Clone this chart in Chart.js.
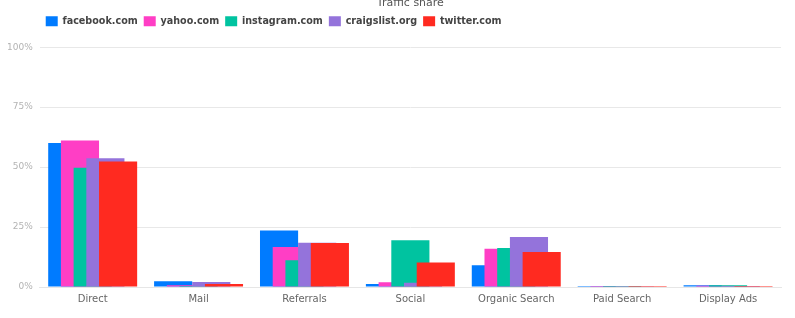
<!DOCTYPE html>
<html>
<head>
<meta charset="utf-8">
<script src="https://cdn.jsdelivr.net/npm/chart.js@4"></script>
<style>
  html, body { margin: 0; padding: 0; background: #fff; overflow: hidden; }
  #wrap { position: absolute; left: 0; top: -5px; width: 795px; height: 325px; }
</style>
</head>
<body>
<div id="wrap"><canvas id="traffic" width="795" height="325"></canvas></div>
<script>
const categories = ['Direct', 'Mail', 'Referrals', 'Social', 'Organic Search', 'Paid Search', 'Display Ads'];
const sites = ['facebook.com', 'yahoo.com', 'instagram.com', 'craigslist.org', 'twitter.com'];
const facebook = [60, 2.4, 23.6, 1.3, 9.1, 0.4, 0.7];
const yahoo = [61.1, 0.7, 16.7, 2.0, 15.9, 0.4, 0.5];
const instagram = [49.7, 0.4, 11.2, 19.5, 16.3, 0.4, 0.7];
const craigslist = [53.7, 2.1, 18.5, 1.8, 20.8, 0.3, 0.4];
const twitter = [52.3, 1.3, 18.4, 10.2, 14.6, 0.4, 0.4];
const yTicks = [0, 25, 50, 75, 100];

const colors = ['#007bff', '#ff3ec5', '#00c3a0', '#9473db', '#ff2a20'];
const series = [facebook, yahoo, instagram, craigslist, twitter];

// draw datasets left to right so the right-most bar sits on top
const drawInOrder = {
    id: 'drawInOrder',
    beforeDatasetsDraw(chart) {
        chart.getSortedVisibleDatasetMetas().forEach(meta => meta.controller.draw());
        return false;
    },
};

// a bit of room under the legend
const legendGap = {
    id: 'legendGap',
    beforeInit(chart) {
        const fit = chart.legend.fit;
        chart.legend.fit = function() {
            fit.bind(chart.legend)();
            this.height += 11;
        };
    },
};

(function() {
    const data = {
        labels: categories,
        datasets: sites.map((s, i) => ({
            label: s,
            data: series[i],
            backgroundColor: colors[i],
            borderColor: colors[i],
            borderWidth: 0,
            categoryPercentage: 0.6,
            barPercentage: 3,
        })),
    };

    new Chart(
        document.getElementById('traffic'),
        {
            type: 'bar',
            data: data,
            plugins: [drawInOrder, legendGap],
            options: {
                responsive: false,
                animation: false,
                devicePixelRatio: 1,
                layout: { padding: { left: 0, right: 14, top: 0, bottom: 9 } },
                plugins: {
                    title: {
                        display: true,
                        fullSize: false,
                        text: 'Traffic share',
                        color: '#555',
                        font: { family: 'DejaVu Sans', size: 11, weight: 'normal' },
                        padding: { top: 2, bottom: 0 },
                    },
                    legend: {
                        align: 'start',
                        fullSize: false,
                        labels: {
                            boxWidth: 12,
                            boxHeight: 10,
                            padding: 6,
                            color: '#444',
                            font: { family: 'DejaVu Sans', size: 9.6, weight: 'bold' },
                        },
                    },
                    tooltip: { enabled: false },
                },
                scales: {
                    x: {
                        grid: { display: false, drawTicks: false },
                        border: { color: '#e6e6e6' },
                        ticks: { color: '#666', padding: 6, font: { family: 'DejaVu Sans', size: 10 } },
                    },
                    y: {
                        min: 0,
                        max: 100,
                        afterBuildTicks: axis => { axis.ticks = yTicks.map(v => ({ value: v })); },
                        border: { display: false },
                        grid: { color: '#e8e8e8', drawTicks: false },
                        ticks: {
                            color: '#b3b3b3',
                            padding: 7,
                            font: { family: 'DejaVu Sans', size: 9 },
                            callback: v => v + '%',
                        },
                    },
                },
            },
        }
    );
})();
</script>
</body>
</html>
